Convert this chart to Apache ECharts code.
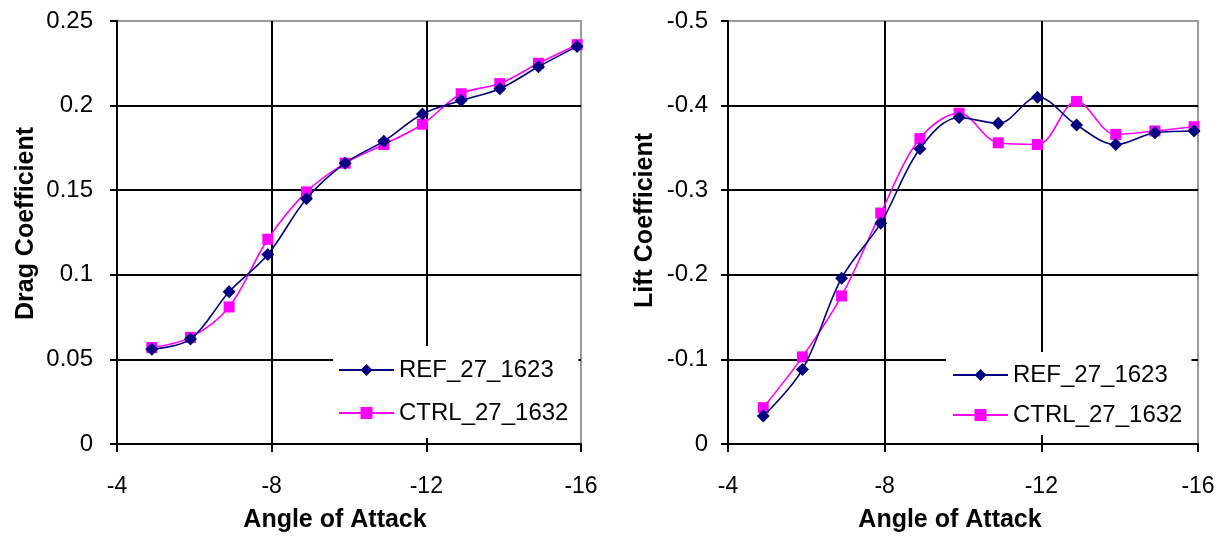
<!DOCTYPE html>
<html>
<head>
<meta charset="utf-8">
<script src="https://cdn.jsdelivr.net/npm/echarts@6/dist/echarts.min.js"></script>
<style>
html,body{margin:0;padding:0;background:#fff;}
#chart{width:1225px;height:538px;}
</style>
</head>
<body>
<div id="chart"></div>
<script>
// Angle of attack (x values)
var angles = [-4.9, -5.9, -6.9, -7.9, -8.9, -9.9, -10.9, -11.9, -12.9, -13.9, -14.9, -15.9];
// Drag coefficient
var dragRef  = [0.056, 0.062, 0.090, 0.112, 0.145, 0.166, 0.179, 0.195, 0.203, 0.210, 0.223, 0.235];
var dragCtrl = [0.057, 0.063, 0.081, 0.121, 0.149, 0.166, 0.177, 0.189, 0.207, 0.213, 0.225, 0.236];
// Lift coefficient
var liftRef  = [-0.033, -0.088, -0.196, -0.261, -0.349, -0.386, -0.379, -0.410, -0.377, -0.354, -0.368, -0.370];
var liftCtrl = [-0.043, -0.103, -0.175, -0.273, -0.361, -0.391, -0.356, -0.354, -0.405, -0.366, -0.370, -0.375];
var seriesNames = ['REF_27_1623', 'CTRL_27_1632'];
var xTicks = {min: -16, max: -4, interval: 4};
var dragTicks = {min: 0, max: 0.25, interval: 0.05};
var liftTicks = {min: -0.5, max: 0, interval: 0.1};

function pairs(xs, ys) { return xs.map(function (x, i) { return [x, ys[i]]; }); }

var FONT = 'Liberation Sans, Arial, sans-serif';
var REF_COLOR = '#000080', CTRL_COLOR = '#FF00FF';

function xAxisCfg(gridIndex, padRight) {
  return {
    type: 'value', gridIndex: gridIndex, inverse: true,
    min: xTicks.min, max: xTicks.max, interval: xTicks.interval,
    name: 'Angle of Attack', nameLocation: 'middle', nameGap: 64,
    nameTextStyle: {fontFamily: FONT, fontSize: 25, fontWeight: 'bold', color: '#000', padding: [0, padRight, 0, 0]},
    axisLine: {show: true, onZero: false, lineStyle: {color: '#000', width: 2}},
    axisTick: {show: true, inside: false, length: 8, lineStyle: {color: '#000', width: 2}},
    axisLabel: {fontFamily: FONT, fontSize: 23, color: '#000', margin: 31},
    splitLine: {show: true, showMinLine: false, showMaxLine: false, lineStyle: {color: '#000', width: 2}}
  };
}

function yAxisCfg(gridIndex, t, name, inverse, gap, labMargin, padL) {
  return {
    type: 'value', gridIndex: gridIndex, inverse: inverse,
    min: t.min, max: t.max, interval: t.interval,
    name: name, nameLocation: 'middle', nameGap: gap, nameRotate: 90,
    nameTextStyle: {fontFamily: FONT, fontSize: 25, fontWeight: 'bold', color: '#000', padding: [0, 0, 0, padL]},
    axisLine: {show: true, onZero: false, lineStyle: {color: '#000', width: 2}},
    axisTick: {show: true, inside: false, length: 7, lineStyle: {color: '#000', width: 2}},
    axisLabel: {fontFamily: FONT, fontSize: 24, color: '#000', margin: labMargin},
    splitLine: {show: true, showMinLine: !inverse, showMaxLine: inverse, lineStyle: {color: '#000', width: 2}}
  };
}

function lineSeries(name, data, xi, yi, color, symbol, size) {
  return {
    type: 'line', name: name, xAxisIndex: xi, yAxisIndex: yi,
    data: data, smooth: 0.35, symbol: symbol, symbolSize: size,
    showAllSymbol: true,
    lineStyle: {color: color, width: 1.6},
    itemStyle: {color: color, borderWidth: 0},
    emphasis: {disabled: true},
    z: symbol === 'rect' ? 3 : 4
  };
}

function legendCfg(left, top, pad, gap) {
  return {
    orient: 'vertical', left: left, top: top,
    backgroundColor: '#fff', padding: pad,
    itemWidth: 55, itemHeight: 15, itemGap: gap,
    textStyle: {fontFamily: FONT, fontSize: 24, color: '#000', lineHeight: 24},
    data: [{name: seriesNames[0]}, {name: seriesNames[1]}],
    selectedMode: false
  };
}

var chart = echarts.init(document.getElementById('chart'), null, {renderer: 'canvas'});
chart.setOption({
  animation: false,
  backgroundColor: '#fff',
  grid: [
    {left: 117, top: 21, width: 464, height: 426, show: true, borderColor: '#9a9a9a', borderWidth: 2, backgroundColor: 'transparent'},
    {left: 728, top: 21, width: 470, height: 431, show: true, borderColor: '#9a9a9a', borderWidth: 2, backgroundColor: 'transparent'}
  ],
  xAxis: [xAxisCfg(0, 28), xAxisCfg(1, 26)],
  yAxis: [
    yAxisCfg(0, dragTicks, 'Drag Coefficient', false, 78, 24, 18),
    yAxisCfg(1, liftTicks, 'Lift Coefficient', true, 70, 20, 24)
  ],
  legend: [
    legendCfg(333, 346, [12, 10, 13, 5], 19),
    legendCfg(946, 352, [11, 9, 8, 6], 16)
  ],
  series: [
    lineSeries(seriesNames[0], pairs(angles, dragRef), 0, 0, REF_COLOR, 'diamond', 13),
    lineSeries(seriesNames[1], pairs(angles, dragCtrl), 0, 0, CTRL_COLOR, 'rect', 11),
    lineSeries(seriesNames[0], pairs(angles, liftRef), 1, 1, REF_COLOR, 'diamond', 13),
    lineSeries(seriesNames[1], pairs(angles, liftCtrl), 1, 1, CTRL_COLOR, 'rect', 11)
  ]
});
</script>
</body>
</html>
